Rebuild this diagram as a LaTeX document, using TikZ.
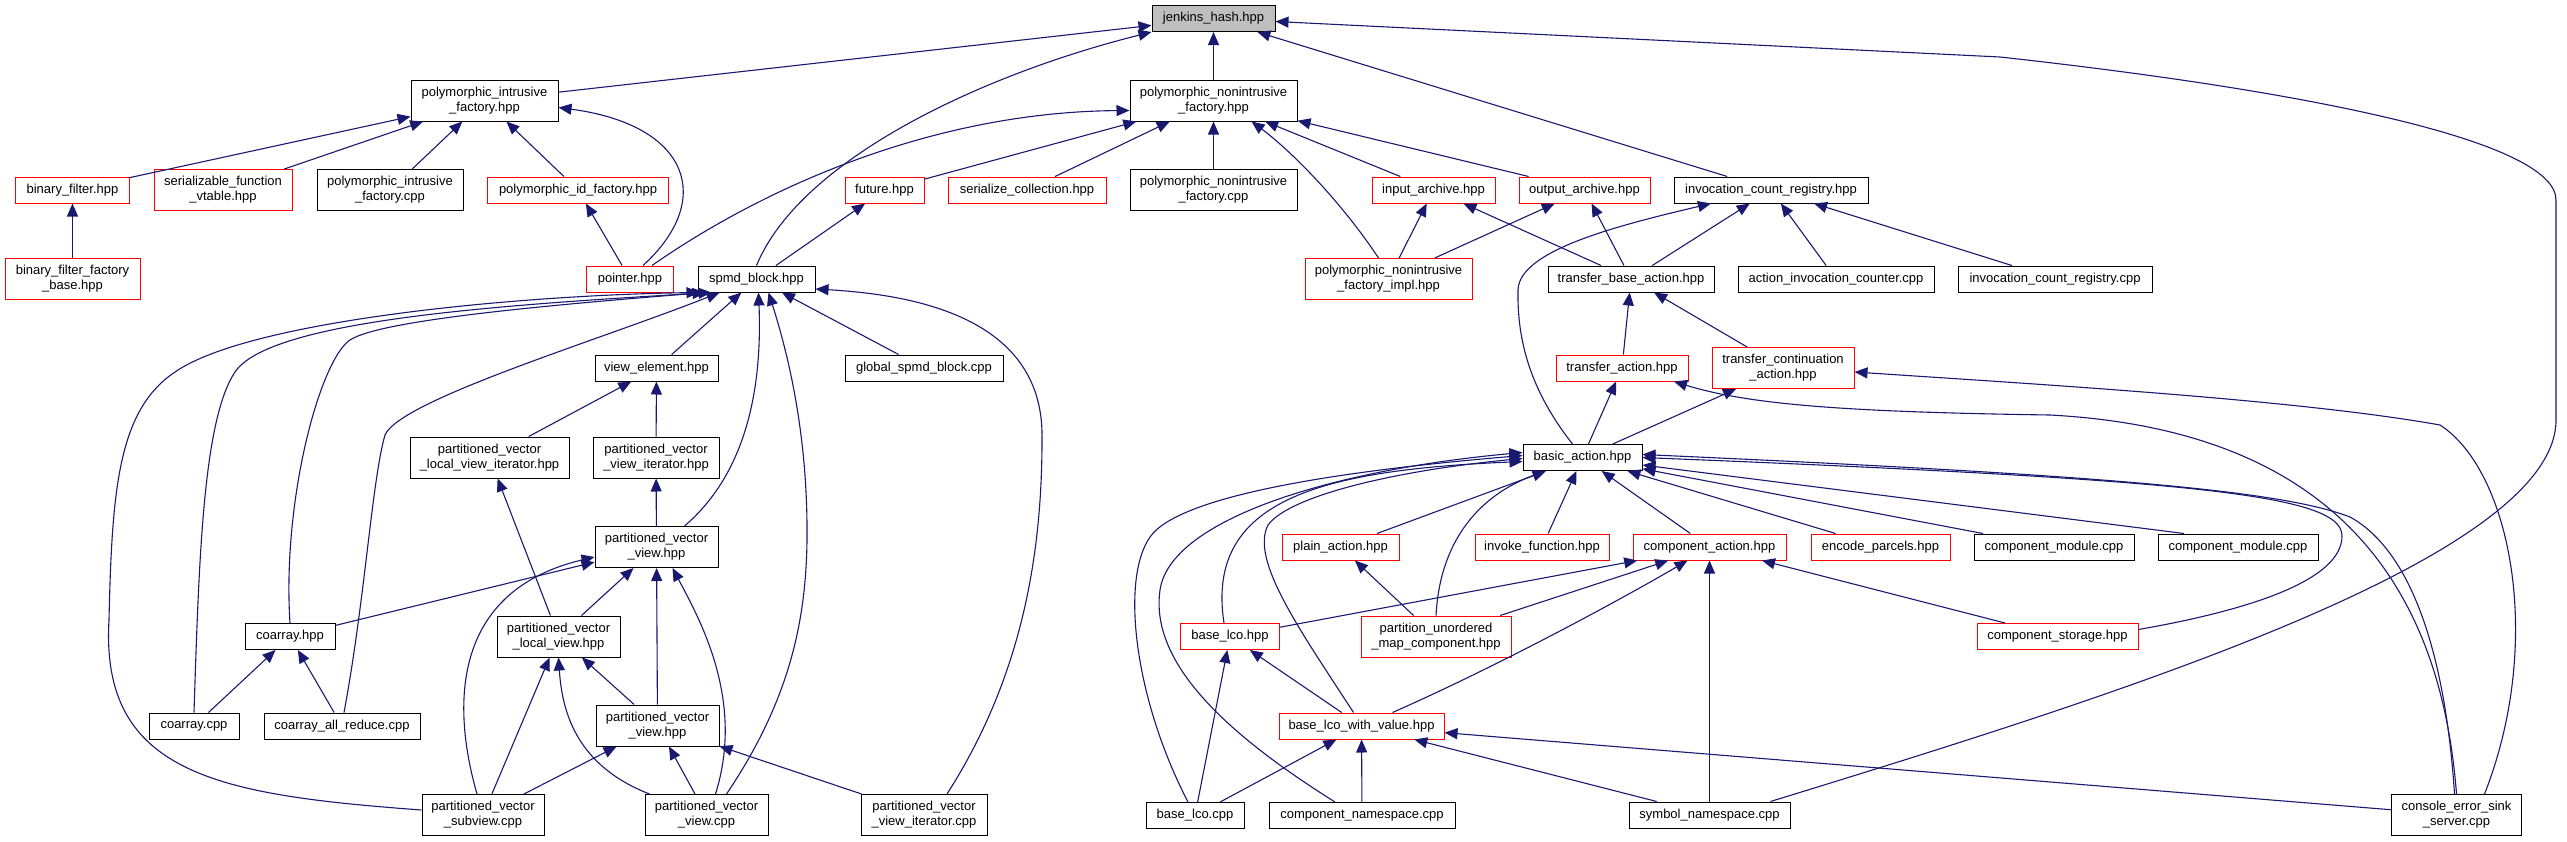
\documentclass[tikz,border=0pt]{standalone}
\usepackage{fontspec}
\setmainfont{Liberation Sans}
\usetikzlibrary{arrows.meta}
\definecolor{edgeblue}{HTML}{191970}

\begin{document}
\begin{tikzpicture}[
x=1pt, y=-1pt,
every node/.style={
    draw=black,
    line width=1pt,
    fill=white,
    minimum height=26pt,
    inner sep=2pt,
    align=center,
    font=\fontsize{13}{15}\selectfont
},
tall/.style={minimum height=41pt},
trunc/.style={draw=red},
hdr/.style={fill=gray!50},
dep/.style={->, draw=edgeblue, line width=1.1pt},
>={Triangle[length=13pt,width=11pt]}
]

\useasboundingbox (0,0) rectangle (2567,841);

\node (jenk) [hdr, minimum width=123pt] at (1213.5,18.5) {jenkins\_hash.hpp};

\node (pif) [tall, minimum width=147pt] at (484.5,100.5) {polymorphic\_intrusive\\\_factory.hpp};
\node (pnf) [tall, minimum width=167pt] at (1213.5,100.5) {polymorphic\_nonintrusive\\\_factory.hpp};

\node (bfilt) [trunc, minimum width=114pt] at (72.5,190) {binary\_filter.hpp};
\node (sfvt) [trunc, tall, minimum width=138pt] at (223,190) {serializable\_function\\\_vtable.hpp};
\node (pifcpp) [tall, minimum width=146pt] at (390,190) {polymorphic\_intrusive\\\_factory.cpp};
\node (pidf) [trunc, minimum width=181pt] at (578,190) {polymorphic\_id\_factory.hpp};
\node (future) [trunc, minimum width=79pt] at (884.5,190) {future.hpp};
\node (sercol) [trunc, minimum width=158pt] at (1027,190) {serialize\_collection.hpp};
\node (pnfcpp) [tall, minimum width=167pt] at (1213.5,190) {polymorphic\_nonintrusive\\\_factory.cpp};
\node (inarch) [trunc, minimum width=123pt] at (1433.5,190) {input\_archive.hpp};
\node (outarch) [trunc, minimum width=131pt] at (1584.5,190) {output\_archive.hpp};
\node (icr) [minimum width=194pt] at (1771,190) {invocation\_count\_registry.hpp};

\node (bffb) [trunc, tall, minimum width=135pt] at (72.5,279) {binary\_filter\_factory\\\_base.hpp};
\node (pointer) [trunc, minimum width=87pt] at (630,279) {pointer.hpp};
\node (spmd) [minimum width=117pt] at (756.5,279) {spmd\_block.hpp};
\node (pnfimpl) [trunc, tall, minimum width=167pt] at (1388.5,279) {polymorphic\_nonintrusive\\\_factory\_impl.hpp};
\node (tba) [minimum width=166pt] at (1631,279) {transfer\_base\_action.hpp};
\node (aic) [minimum width=196pt] at (1836,279) {action\_invocation\_counter.cpp};
\node (icrcpp) [minimum width=194pt] at (2055,279) {invocation\_count\_registry.cpp};

\node (viewel) [minimum width=123pt] at (656.5,368) {view\_element.hpp};
\node (gspmd) [minimum width=158pt] at (924,368) {global\_spmd\_block.cpp};
\node (tact) [trunc, minimum width=132pt] at (1622,368) {transfer\_action.hpp};
\node (tcont) [trunc, tall, minimum width=142pt] at (1783,368) {transfer\_continuation\\\_action.hpp};

\node (pvlvi) [tall, minimum width=159pt] at (489.5,457.5) {partitioned\_vector\\\_local\_view\_iterator.hpp};
\node (pvvi) [tall, minimum width=126pt] at (656,457.5) {partitioned\_vector\\\_view\_iterator.hpp};
\node (basic) [minimum width=119pt] at (1582.5,457.5) {basic\_action.hpp};

\node (pvview) [tall, minimum width=123pt] at (656.5,547) {partitioned\_vector\\\_view.hpp};
\node (plain) [trunc, minimum width=117pt] at (1340.5,547) {plain\_action.hpp};
\node (invoke) [trunc, minimum width=134pt] at (1542,547) {invoke\_function.hpp};
\node (compact) [trunc, minimum width=153pt] at (1709.5,547) {component\_action.hpp};
\node (encode) [trunc, minimum width=139pt] at (1880.5,547) {encode\_parcels.hpp};
\node (cmoda) [minimum width=160pt] at (2054,547) {component\_module.cpp};
\node (cmodb) [minimum width=160pt] at (2238,547) {component\_module.cpp};

\node (coarray) [minimum width=90pt] at (290,636.5) {coarray.hpp};
\node (pvlv) [tall, minimum width=123pt] at (558.5,636.5) {partitioned\_vector\\\_local\_view.hpp};
\node (baselco) [trunc, minimum width=99pt] at (1230,636.5) {base\_lco.hpp};
\node (pumc) [trunc, tall, minimum width=150pt] at (1436,636.5) {partition\_unordered\\\_map\_component.hpp};
\node (cstore) [trunc, minimum width=161pt] at (2057.5,636.5) {component\_storage.hpp};

\node (coarraycpp) [minimum width=90pt] at (194,726) {coarray.cpp};
\node (coarrayall) [minimum width=156pt] at (342,726) {coarray\_all\_reduce.cpp};
\node (pvviewb) [tall, minimum width=123pt] at (657.5,725.5) {partitioned\_vector\\\_view.hpp};
\node (blwv) [trunc, minimum width=165pt] at (1361.5,726) {base\_lco\_with\_value.hpp};

\node (pvsub) [tall, minimum width=122pt] at (483,815) {partitioned\_vector\\\_subview.cpp};
\node (pvviewcpp) [tall, minimum width=123pt] at (706.5,815) {partitioned\_vector\\\_view.cpp};
\node (pvvicpp) [tall, minimum width=126pt] at (924,815) {partitioned\_vector\\\_view\_iterator.cpp};
\node (baselcocpp) [minimum width=98pt] at (1195,815.5) {base\_lco.cpp};
\node (compns) [minimum width=186pt] at (1362,815.5) {component\_namespace.cpp};
\node (symns) [minimum width=161pt] at (1709.5,815) {symbol\_namespace.cpp};
\node (cess) [tall, minimum width=130pt] at (2456.5,815) {console\_error\_sink\\\_server.cpp};

\draw[dep] (pif) -- (jenk);
\draw[dep] (spmd.north) .. controls (800,160) and (980,75) .. (jenk.south west);
\draw[dep] (pnf) -- (jenk);
\draw[dep] (icr) -- (jenk);
\draw[dep] ([xshift=61pt]symns.north) .. controls (2100,700) and (2556,560) .. (2556,420) -- (2556,200) .. controls (2556,140) and (2300,90) .. (2000,57) -- ([yshift=-3pt]jenk.east);

\draw[dep] (bfilt) -- (pif);
\draw[dep] (sfvt) -- (pif);
\draw[dep] (pifcpp) -- (pif);
\draw[dep] (pidf) -- (pif);
\draw[dep] ([xshift=13pt]pointer.north) .. controls (715,200) and (690,125) .. ([yshift=-7pt]pif.east);
\draw[dep] (bffb) -- (bfilt);
\draw[dep] (pointer) -- (pidf);

\draw[dep] ([xshift=22pt]pointer.north) .. controls (760,190) and (930,112) .. ([yshift=-10pt]pnf.west);
\draw[dep] (future) -- (pnf);
\draw[dep] (sercol) -- (pnf);
\draw[dep] (pnfcpp) -- (pnf);
\draw[dep] ([xshift=-10pt]pnfimpl.north) .. controls (1340,200) and (1290,150) .. ([xshift=38pt]pnf.south);
\draw[dep] (inarch) -- (pnf);
\draw[dep] (outarch) -- (pnf);
\draw[dep] (spmd) -- (future);

\draw[dep] (pnfimpl) -- (inarch);
\draw[dep] (pnfimpl) -- (outarch);
\draw[dep] (tba) -- (inarch);
\draw[dep] (tba) -- (outarch);
\draw[dep] ([xshift=-10pt]basic.north) .. controls (1530,390) and (1517,340) .. (1518,290) .. controls (1519,250) and (1620,225) .. ([xshift=-60pt]icr.south);
\draw[dep] (tba) -- (icr);
\draw[dep] (aic) -- (icr);
\draw[dep] (icrcpp) -- (icr);

\draw[dep] (tact) -- (tba);
\draw[dep] (tcont) -- (tba);
\draw[dep] (basic) -- (tact);
\draw[dep] (cess.north) .. controls (2440,580) and (2330,430) .. (2050,415) .. controls (1850,412) and (1750,405) .. ([xshift=52pt]tact.south);
\draw[dep] (basic) -- (tcont);
\draw[dep] ([xshift=28pt]cess.north) .. controls (2545,640) and (2510,470) .. (2440,425) .. controls (2300,400) and (2050,385) .. ([yshift=-4pt]tcont.east);

\draw[dep] (plain) -- (basic);
\draw[dep] (invoke) -- (basic);
\draw[dep] (compact) -- (basic);
\draw[dep] (encode) -- (basic);
\draw[dep] (cmoda) -- (basic);
\draw[dep] ([xshift=-54pt]cmodb.north) -- (basic);
\draw[dep] ([yshift=7pt]cstore.east) .. controls (2250,610) and (2342,580) .. (2342,536) .. controls (2342,495) and (2200,480) .. (basic.east);
\draw[dep] ([xshift=-2pt]cess.north) .. controls (2445,650) and (2410,550) .. (2350,517) .. controls (2280,490) and (2100,475) .. ([yshift=3pt]basic.east);
\draw[dep] (pumc.north) .. controls (1440,540) and (1480,495) .. ([xshift=-37pt]basic.south);
\draw[dep] ([xshift=-6pt]baselco.north) .. controls (1205,500) and (1320,470) .. ([yshift=-4pt]basic.west);
\draw[dep] ([xshift=-8pt]blwv.north) .. controls (1300,630) and (1250,560) .. (1268,525) .. controls (1290,495) and (1400,470) .. ([yshift=-1pt]basic.west);
\draw[dep] ([xshift=-7pt]baselcocpp.north) .. controls (1135,700) and (1120,580) .. (1150,537) .. controls (1180,494) and (1350,470) .. ([yshift=2pt]basic.west);
\draw[dep] ([xshift=-27pt]compns.north) .. controls (1220,730) and (1150,660) .. (1160,590) .. controls (1170,520) and (1330,470) .. ([yshift=5pt]basic.west);

\draw[dep] (baselco) -- (compact);
\draw[dep] (pumc) -- (compact);
\draw[dep] ([xshift=31pt]blwv.north) .. controls (1500,665) and (1620,600) .. ([xshift=-22pt]compact.south);
\draw[dep] (symns) -- (compact);
\draw[dep] (cstore) -- (compact);
\draw[dep] (pumc) -- (plain);

\draw[dep] (blwv) -- (baselco);
\draw[dep] (baselcocpp) -- (baselco);
\draw[dep] (baselcocpp) -- (blwv);
\draw[dep] (compns) -- (blwv);
\draw[dep] (symns) -- (blwv);
\draw[dep] (cess) -- (blwv);

\draw[dep] (viewel) -- (spmd);
\draw[dep] (gspmd) -- (spmd);
\draw[dep] (coarray.north) .. controls (282,500) and (320,360) .. (350,340) .. controls (380,320) and (550,305) .. ([xshift=8pt]spmd.south west);
\draw[dep] (coarraycpp.north) .. controls (199,560) and (203,420) .. (235,372) .. controls (270,320) and (500,305) .. ([xshift=14pt]spmd.south west);
\draw[dep] ([xshift=2pt]coarrayall.north) .. controls (365,600) and (372,480) .. (385,435) .. controls (400,400) and (600,340) .. ([xshift=22pt]spmd.south west);
\draw[dep] ([yshift=5pt]pvsub.west) .. controls (220,795) and (100,775) .. (109,620) .. controls (112,490) and (118,410) .. (175,372) .. controls (250,320) and (520,295) .. ([xshift=2pt]spmd.south west);
\draw[dep] ([xshift=28pt]pvview.north) .. controls (750,470) and (762,380) .. ([xshift=2pt]spmd.south);
\draw[dep] ([xshift=20pt]pvviewcpp.north) .. controls (790,700) and (806,620) .. (807,540) .. controls (808,440) and (790,360) .. ([xshift=12pt]spmd.south);
\draw[dep] ([xshift=23pt]pvvicpp.north) .. controls (1020,680) and (1042,560) .. (1042,440) .. controls (1045,320) and (920,295) .. ([yshift=-10pt]spmd.east);

\draw[dep] (pvlvi) -- (viewel);
\draw[dep] (pvvi) -- (viewel);
\draw[dep] (pvview) -- (pvvi);
\draw[dep] (pvlv) -- (pvlvi);
\draw[dep] (coarray) -- (pvview);
\draw[dep] (pvlv) -- (pvview);
\draw[dep] (pvviewb) -- (pvview);
\draw[dep] ([xshift=9pt]pvviewcpp.north) .. controls (745,700) and (700,620) .. ([xshift=16pt]pvview.south);
\draw[dep] ([xshift=-6pt]pvsub.north) .. controls (450,700) and (455,590) .. ([yshift=-10pt]pvview.west);
\draw[dep] (pvviewb) -- (pvlv);
\draw[dep] (pvsub) -- (pvlv);
\draw[dep] ([xshift=-57pt]pvviewcpp.north) .. controls (575,765) and (562,710) .. (pvlv.south);
\draw[dep] (pvsub) -- (pvviewb);
\draw[dep] (pvviewcpp) -- (pvviewb);
\draw[dep] (pvvicpp) -- (pvviewb);
\draw[dep] (coarraycpp) -- (coarray);
\draw[dep] (coarrayall) -- (coarray);

\end{tikzpicture}
\end{document}
